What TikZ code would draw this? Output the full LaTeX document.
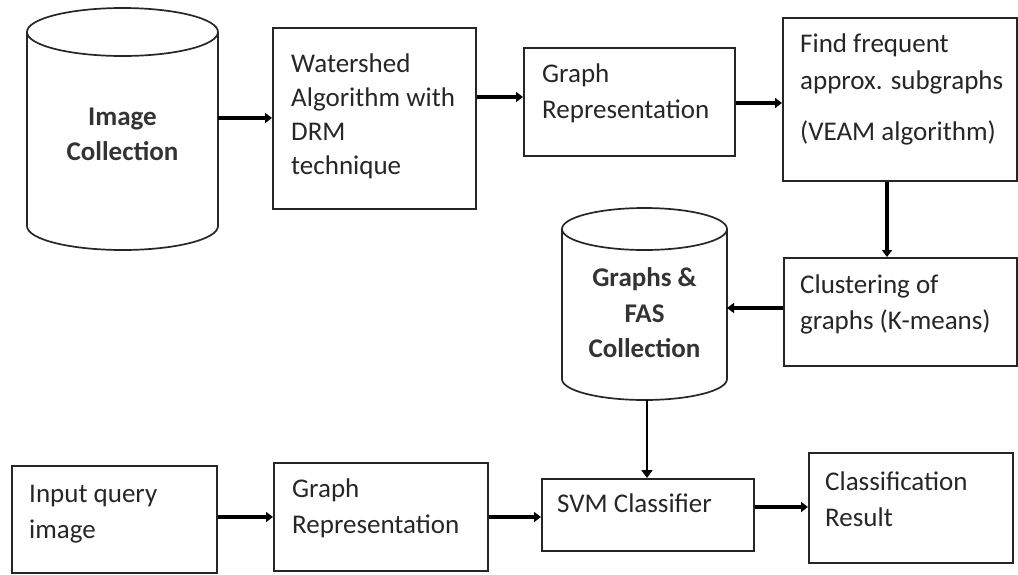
\documentclass[tikz,border=0pt]{standalone}
\usepackage{fontspec}
\setmainfont{Carlito}
\usetikzlibrary{arrows.meta}
\begin{document}
\begin{tikzpicture}[x=1pt,y=-1pt,
  box/.style={draw=black!85, line width=1.7pt, rectangle, inner sep=0pt, anchor=north west},
  txt/.style={anchor=base west, inner sep=0pt, font=\fontsize{27}{36}\selectfont, text=black!85},
  btxt/.style={anchor=base, inner sep=0pt, font=\fontsize{27}{36}\selectfont\bfseries, text=black!80},
  cyl/.style={draw=black!85, line width=1.7pt},
  arr/.style={line width=3.6pt, -{Triangle[length=7pt,width=10pt]}},
  thinarr/.style={line width=2.8pt, -{Triangle[length=8pt,width=11pt]}}]
\useasboundingbox (0,0) rectangle (1018,574);
% cylinder 1
\draw[cyl] (27,32) -- (27,226) arc[start angle=180, end angle=360, x radius=95.5pt, y radius=24pt] -- (218,32);
\draw[cyl] (122.5,32) ellipse [x radius=95.5pt, y radius=24pt];
\node[btxt] (c1a) at (122.5,125) {Image};
\node[btxt] (c1b) at (122.5,160) {Collection};
\coordinate (c1r) at (218,118);
% cylinder 2
\draw[cyl] (562,229) -- (562,379) arc[start angle=180, end angle=360, x radius=82.5pt, y radius=21pt] -- (727,229);
\draw[cyl] (644.5,229) ellipse [x radius=82.5pt, y radius=21pt];
\node[btxt] (c2a) at (644.5,286) {Graphs \&};
\node[btxt] (c2b) at (644.5,322) {FAS};
\node[btxt] (c2c) at (644.5,357) {Collection};
\coordinate (c2r) at (727,308);
\coordinate (c2d) at (647,400);
% boxes
\node[box, minimum width=203pt, minimum height=181pt] (wat) at (272,27) {};
\node[txt] (w1) at (291,72) {Watershed};
\node[txt] (w2) at (291,106) {Algorithm with};
\node[txt] (w3) at (291,140) {DRM};
\node[txt] (w4) at (291,174) {technique};

\node[box, minimum width=211pt, minimum height=108pt] (gra) at (523,47) {};
\node[txt] (g1) at (542,82) {Graph};
\node[txt] (g2) at (542,118) {Representation};

\node[box, minimum width=234pt, minimum height=163pt] (ffs) at (782,17) {};
\node[txt] (f1) at (800,52) {Find frequent};
\node[txt] (f2) at (800,89) {approx. subgraphs};
\node[txt] (f3) at (800,140) {(VEAM algorithm)};

\node[box, minimum width=233pt, minimum height=108pt] (clu) at (783,257) {};
\node[txt] (k1) at (800,293) {Clustering of};
\node[txt] (k2) at (800,329) {graphs (K-means)};

\node[box, minimum width=205pt, minimum height=107pt] (inp) at (11,465) {};
\node[txt] (i1) at (29,502) {Input query};
\node[txt] (i2) at (29,538) {image};

\node[box, minimum width=214pt, minimum height=108pt] (grb) at (273,462) {};
\node[txt] (h1) at (292,497) {Graph};
\node[txt] (h2) at (292,533) {Representation};

\node[box, minimum width=212pt, minimum height=72pt] (svm) at (541,478) {};
\node[txt] (s1) at (557,512) {SVM Classifier};

\node[box, minimum width=204pt, minimum height=110pt] (cls) at (808,452) {};
\node[txt] (r1) at (825,490) {Classification};
\node[txt] (r2) at (825,526) {Result};
% connectors
\draw[arr] (c1r) -- (c1r -| wat.west);
\draw[arr] (wat.east |- 0,97) -- (gra.west |- 0,97);
\draw[arr] (gra.east |- 0,103) -- (ffs.west |- 0,103);
\draw[arr] (ffs.south -| 887,0) -- (clu.north -| 887,0);
\draw[arr] (clu.west |- c2r) -- (c2r);
\draw[thinarr] (c2d) -- (svm.north -| c2d);
\draw[arr] (inp.east |- 0,517) -- (grb.west |- 0,517);
\draw[arr] (grb.east |- 0,517) -- (svm.west |- 0,517);
\draw[arr] (svm.east |- 0,507) -- (cls.west |- 0,507);
\end{tikzpicture}
\end{document}
